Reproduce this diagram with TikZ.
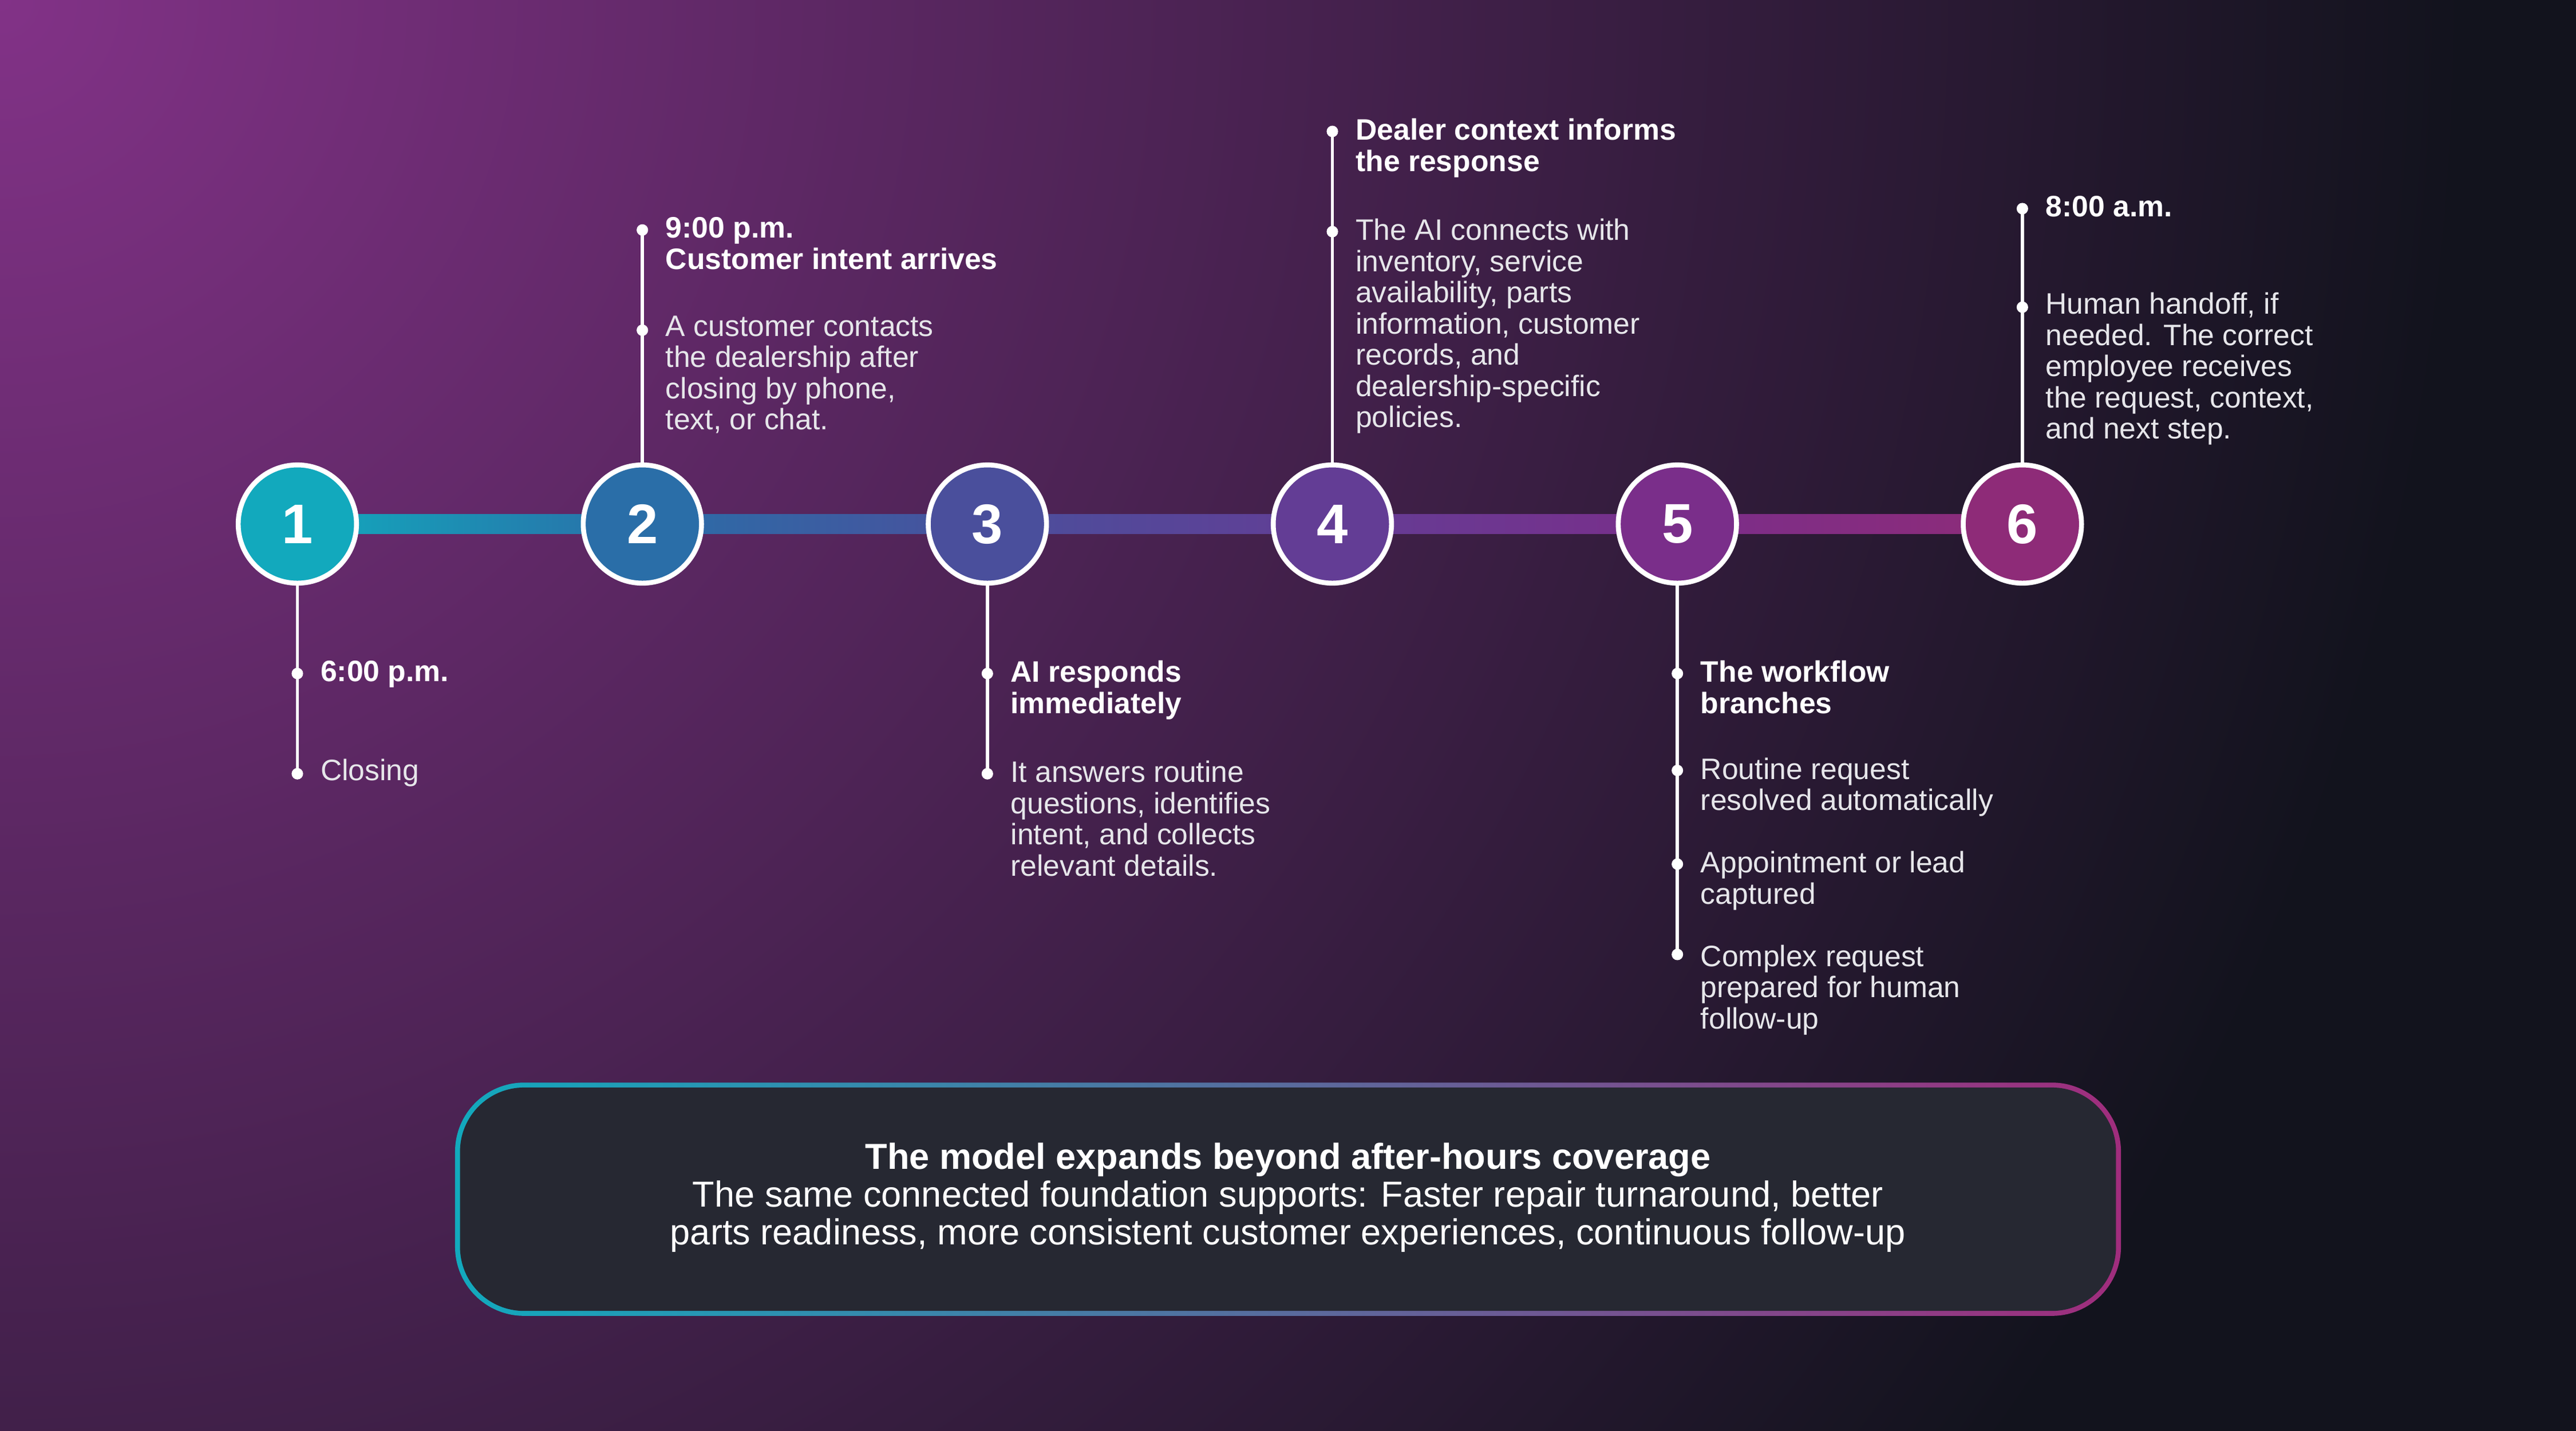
\documentclass[tikz,border=0pt]{standalone}
\usepackage{fontspec}
\setmainfont{Liberation Sans}
\usetikzlibrary{calc}
\definecolor{bg}{HTML}{12131D}
\definecolor{glow}{HTML}{823287}
\definecolor{cA}{HTML}{12A9BD}
\definecolor{cB}{HTML}{2A6EA8}
\definecolor{cC}{HTML}{4A4F9C}
\definecolor{cD}{HTML}{633D95}
\definecolor{cE}{HTML}{7A2E8A}
\definecolor{cF}{HTML}{8E2B78}
\definecolor{cG}{HTML}{A02D7D}
\definecolor{boxfill}{HTML}{262832}
\definecolor{txt}{HTML}{E6E6EA}
\begin{document}
\begin{tikzpicture}[x=1pt,y=-1pt,
  stepc/.style={circle,draw=white,line width=3pt,minimum size=72pt,inner sep=0pt,text=white,font=\fontsize{34}{34}\selectfont\bfseries},
  stem/.style={white,line width=2pt},
  dot/.style={circle,fill=white,inner sep=0pt,minimum size=7pt},
  lbl/.style={anchor=north west,align=left,text=txt,inner sep=0pt,font=\fontsize{18}{19}\selectfont},
  ttl/.style={lbl,text=white,font=\fontsize{18}{19}\selectfont\bfseries}]
\useasboundingbox (0,0) rectangle (1568,871);
\fill[bg] (0,0) rectangle (1568,871);
\begin{scope}
\clip (0,0) rectangle (1568,871);
\shade[inner color=glow, outer color=bg] (0,0) circle (1500);
\end{scope}
% positions
\foreach \i/\x in {1/181,2/391,3/601,4/811,5/1021,6/1231}{\coordinate (p\i) at (\x,319);}
% segments
\foreach \a/\b/\ca/\cb in {1/2/cA/cB,2/3/cB/cC,3/4/cC/cD,4/5/cD/cE,5/6/cE/cF}{
  \shade[left color=\ca,right color=\cb] ($(p\a)+(0,-6)$) rectangle ($(p\b)+(0,6)$);}
% stems (behind circles)
\coordinate (e1) at (181,471); \draw[stem] (p1) -- (e1);
\coordinate (e2) at (391,140); \draw[stem] (p2) -- (e2);
\coordinate (e3) at (601,471); \draw[stem] (p3) -- (e3);
\coordinate (e4) at (811,80);  \draw[stem] (p4) -- (e4);
\coordinate (e5) at (1021,581);\draw[stem] (p5) -- (e5);
\coordinate (e6) at (1231,127);\draw[stem] (p6) -- (e6);
% circles
\node[stepc,fill=cA] (n1) at (p1) {1};
\node[stepc,fill=cB] (n2) at (p2) {2};
\node[stepc,fill=cC] (n3) at (p3) {3};
\node[stepc,fill=cD] (n4) at (p4) {4};
\node[stepc,fill=cE] (n5) at (p5) {5};
\node[stepc,fill=cF] (n6) at (p6) {6};
% dots
\foreach \x/\y [count=\k] in {181/410,181/471,391/140,391/201,601/410,601/471,811/80,811/141,1021/410,1021/469,1021/526,1021/581,1231/127,1231/187}{
  \node[dot] (d\k) at (\x,\y) {};}
% texts
\node[ttl] (t1) at (195,402) {6:00 p.m.};
\node[lbl] (b1) at (195,462) {Closing};
\node[ttl] (t2) at (405,132) {9:00 p.m.\\Customer intent arrives};
\node[lbl] (b2) at (405,192) {A customer contacts\\the dealership after\\closing by phone,\\text, or chat.};
\node[ttl] (t3) at (615,402) {AI responds\\immediately};
\node[lbl] (b3) at (615,463) {It answers routine\\questions, identifies\\intent, and collects\\relevant details.};
\node[ttl] (t4) at (825,72) {Dealer context informs\\the response};
\node[lbl] (b4) at (825,133) {The AI connects with\\inventory, service\\availability, parts\\information, customer\\records, and\\dealership-specific\\policies.};
\node[ttl] (t5) at (1035,402) {The workflow\\branches};
\node[lbl] (b5a) at (1035,461) {Routine request\\resolved automatically};
\node[lbl] (b5b) at (1035,518) {Appointment or lead\\captured};
\node[lbl] (b5c) at (1035,575) {Complex request\\prepared for human\\follow-up};
\node[ttl] (t6) at (1245,119) {8:00 a.m.};
\node[lbl] (b6) at (1245,178) {Human handoff, if\\needed. The correct\\employee receives\\the request, context,\\and next step.};
% bottom box
\shade[left color=cA,right color=cG,rounded corners=42pt] (277,659) rectangle (1291,801);
\fill[boxfill,rounded corners=39pt] (280,662) rectangle (1288,798);
\node[align=center,text=white,inner sep=0pt,font=\fontsize{22}{23}\selectfont] (box) at (784,729)
 {\textbf{The model expands beyond after-hours coverage}\\The same connected foundation supports: Faster repair turnaround, better\\parts readiness, more consistent customer experiences, continuous follow-up};
\end{tikzpicture}
\end{document}
